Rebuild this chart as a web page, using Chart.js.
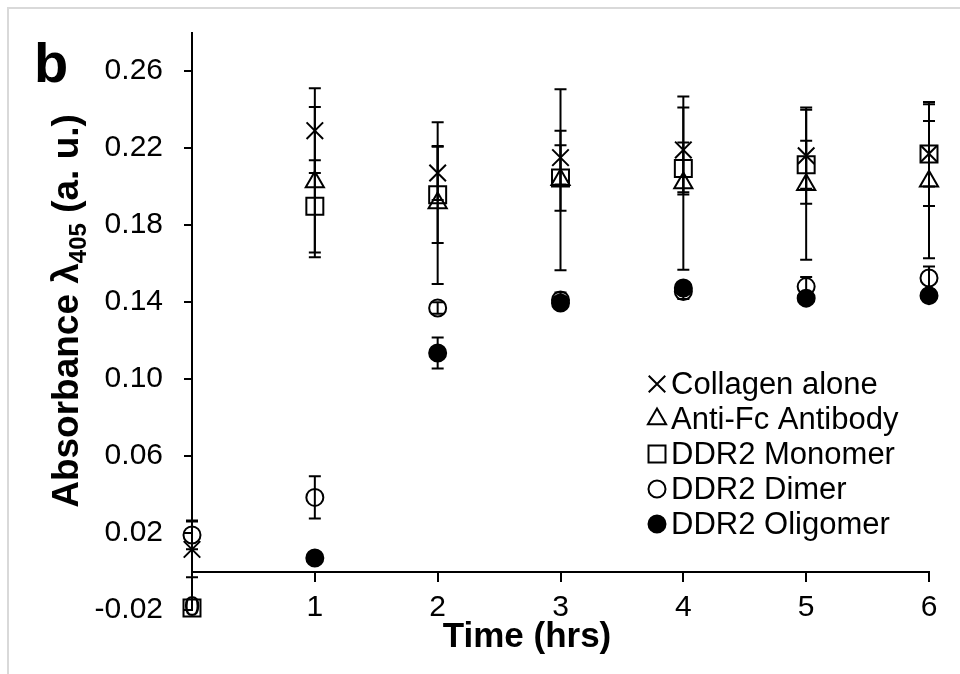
<!DOCTYPE html>
<html>
<head>
<meta charset="utf-8">
<script src="https://cdn.jsdelivr.net/npm/chart.js@4.4.0/dist/chart.umd.min.js"></script>
<style>
  html, body { margin: 0; padding: 0; background: #fff; overflow: hidden; }
  #frame { position: absolute; left: 7px; top: 7px; width: 1100px; height: 1100px;
           border-top: 2px solid #d9d9d9; border-left: 2px solid #d9d9d9; }
  #wrap { position: absolute; left: 0; top: 0; width: 960px; height: 674px; }
</style>
</head>
<body>
<div id="frame"></div>
<div id="wrap"><canvas id="chart" width="960" height="674"></canvas></div>
<script>
// time points (hrs)
const times = [0, 1, 2, 3, 4, 5, 6];
const seriesNames = ['Collagen alone', 'Anti-Fc Antibody', 'DDR2 Monomer', 'DDR2 Dimer', 'DDR2 Oligomer'];

// absorbance values + error bars
const collagen      = [0.0115, 0.229, 0.207, 0.215, 0.219, 0.216, 0.217];
const collagenErr   = [0.0145, 0.022, 0.014, 0.014, 0.022, 0.025, 0.017];
const antiFc        = [null, 0.2023, 0.1914, 0.2035, 0.2018, 0.2009, 0.2027];
const antiFcErr     = [0, 0.039, 0.042, 0.047, 0.045, 0.039, 0.040];
const monomer       = [-0.019, 0.1897, 0.1957, 0.2044, 0.2093, 0.2113, 0.2169];
const monomerErr    = [0, 0.024, 0.025, 0.017, 0.0135, 0.0125, 0.027];
const dimer         = [0.019, 0.0385, 0.1369, 0.141, 0.1455, 0.148, 0.1525];
const dimerErr      = [0.0075, 0.011, 0.003, 0.004, 0.004, 0.005, 0.006];
const oligomer      = [null, 0.007, 0.1135, 0.1395, 0.1473, 0.142, 0.1433];
const oligomerErr   = [0, 0.002, 0.008, 0.003, 0.003, 0.002, 0.002];

const yTicks = [-0.02, 0.02, 0.06, 0.10, 0.14, 0.18, 0.22, 0.26];
const xTicks = [0, 1, 2, 3, 4, 5, 6];

const FONT = '"Liberation Sans", Arial, sans-serif';

const markers = [
    { pointStyle: 'crossRot', radius: 11.7, fill: 'rgba(0,0,0,0)' },
    { pointStyle: 'triangle', radius: 10.5, fill: 'rgba(0,0,0,0)' },
    { pointStyle: 'rect',     radius: 12,   fill: 'rgba(0,0,0,0)' },
    { pointStyle: 'circle',   radius: 8.5,  fill: 'rgba(0,0,0,0)' },
    { pointStyle: 'circle',   radius: 8.5,  fill: '#000' }
];

function makeSet(i, values, errs) {
    const m = markers[i];
    return {
        label: seriesNames[i],
        data: times.map((t, k) => ({ x: t, y: values[k] })),
        errors: errs,
        showLine: false,
        pointStyle: m.pointStyle,
        pointRadius: m.radius,
        pointHoverRadius: m.radius,
        pointBorderWidth: 2,
        pointHoverBorderWidth: 2,
        borderColor: '#000',
        backgroundColor: m.fill,
        pointBackgroundColor: m.fill,
        clip: false,
        order: 4 - i // later series drawn on top, like excel
    };
}

// error bars
const errorBars = {
    id: 'errorBars',
    beforeDatasetsDraw(chart) {
        const { ctx, scales: { x, y } } = chart;
        ctx.save();
        ctx.strokeStyle = '#000';
        ctx.lineWidth = 2;
        chart.data.datasets.forEach(ds => {
            ds.data.forEach((pt, k) => {
                const e = ds.errors[k];
                if (pt.y == null || !e) return;
                const px = x.getPixelForValue(pt.x);
                const top = y.getPixelForValue(pt.y + e);
                const bot = y.getPixelForValue(pt.y - e);
                ctx.beginPath();
                ctx.moveTo(px, top); ctx.lineTo(px, bot);
                ctx.moveTo(px - 6, top); ctx.lineTo(px + 6, top);
                ctx.moveTo(px - 6, bot); ctx.lineTo(px + 6, bot);
                ctx.stroke();
            });
        });
        ctx.restore();
    }
};

// titles, panel letter and the legend inside the plot
const decorations = {
    id: 'decorations',
    afterDraw(chart) {
        const { ctx } = chart;
        ctx.save();
        ctx.fillStyle = '#000';

        // panel letter
        ctx.font = 'bold 56px ' + FONT;
        ctx.textAlign = 'left';
        ctx.textBaseline = 'alphabetic';
        ctx.fillText('b', 34, 82);

        // x title
        ctx.font = 'bold 35px ' + FONT;
        ctx.textAlign = 'center';
        ctx.fillText('Time (hrs)', 527, 647);

        // y title with subscript
        const big = 'bold 37px ' + FONT, small = 'bold 24px ' + FONT;
        const parts = [['Absorbance \u03bb', big, 0], ['405', small, 8], [' (a. u.)', big, 0]];
        let total = 0;
        parts.forEach(p => { ctx.font = p[1]; total += ctx.measureText(p[0]).width; });
        ctx.translate(78, 311);
        ctx.rotate(-Math.PI / 2);
        ctx.textAlign = 'left';
        let cx = -total / 2;
        parts.forEach(p => {
            ctx.font = p[1];
            ctx.fillText(p[0], cx, p[2]);
            cx += ctx.measureText(p[0]).width;
        });
        ctx.setTransform(1, 0, 0, 1, 0, 0);

        // legend
        ctx.font = '31px ' + FONT;
        ctx.textAlign = 'left';
        ctx.textBaseline = 'middle';
        ctx.strokeStyle = '#000';
        ctx.lineWidth = 2;
        seriesNames.forEach((name, i) => {
            const rowY = 384 + i * 35;
            const m = markers[i];
            ctx.fillStyle = m.fill;
            Chart.helpers.drawPoint(ctx, { pointStyle: m.pointStyle, radius: m.radius, rotation: 0, borderWidth: 2 }, 657, rowY);
            ctx.fillStyle = '#000';
            ctx.fillText(name, 671, rowY + 1);
        });
        ctx.restore();
    }
};

new Chart(document.getElementById('chart'), {
    type: 'scatter',
    data: {
        datasets: [
            makeSet(0, collagen, collagenErr),
            makeSet(1, antiFc, antiFcErr),
            makeSet(2, monomer, monomerErr),
            makeSet(3, dimer, dimerErr),
            makeSet(4, oligomer, oligomerErr)
        ]
    },
    options: {
        responsive: false,
        animation: false,
        layout: { padding: { top: 32.5, right: 31, bottom: 64, left: 0 } },
        plugins: {
            legend: { display: false },
            tooltip: { enabled: false }
        },
        scales: {
            x: {
                type: 'linear',
                position: { y: 0 }, // horizontal axis crosses at zero
                min: 0,
                max: 6,
                afterBuildTicks: s => { s.ticks = xTicks.map(v => ({ value: v })); },
                grid: { drawOnChartArea: false, drawTicks: true, tickLength: 9, color: '#000', lineWidth: 2 },
                border: { display: true, color: '#000', width: 2 },
                ticks: {
                    padding: 9.5,
                    color: '#000',
                    font: { family: FONT, size: 30 },
                    maxRotation: 0
                }
            },
            y: {
                position: 'left',
                min: -0.02,
                max: 0.28,
                afterBuildTicks: s => { s.ticks = yTicks.map(v => ({ value: v })); },
                afterFit: s => { s.width = 192; s.paddingTop = 0; s.paddingBottom = 0; },
                grid: { drawOnChartArea: false, drawTicks: true, tickLength: 8, color: '#000', lineWidth: 2 },
                border: { display: true, color: '#000', width: 2 },
                ticks: {
                    padding: 21,
                    color: '#000',
                    font: { family: FONT, size: 30 },
                    callback: v => v.toFixed(2)
                }
            }
        }
    },
    plugins: [errorBars, decorations]
});
</script>
</body>
</html>
